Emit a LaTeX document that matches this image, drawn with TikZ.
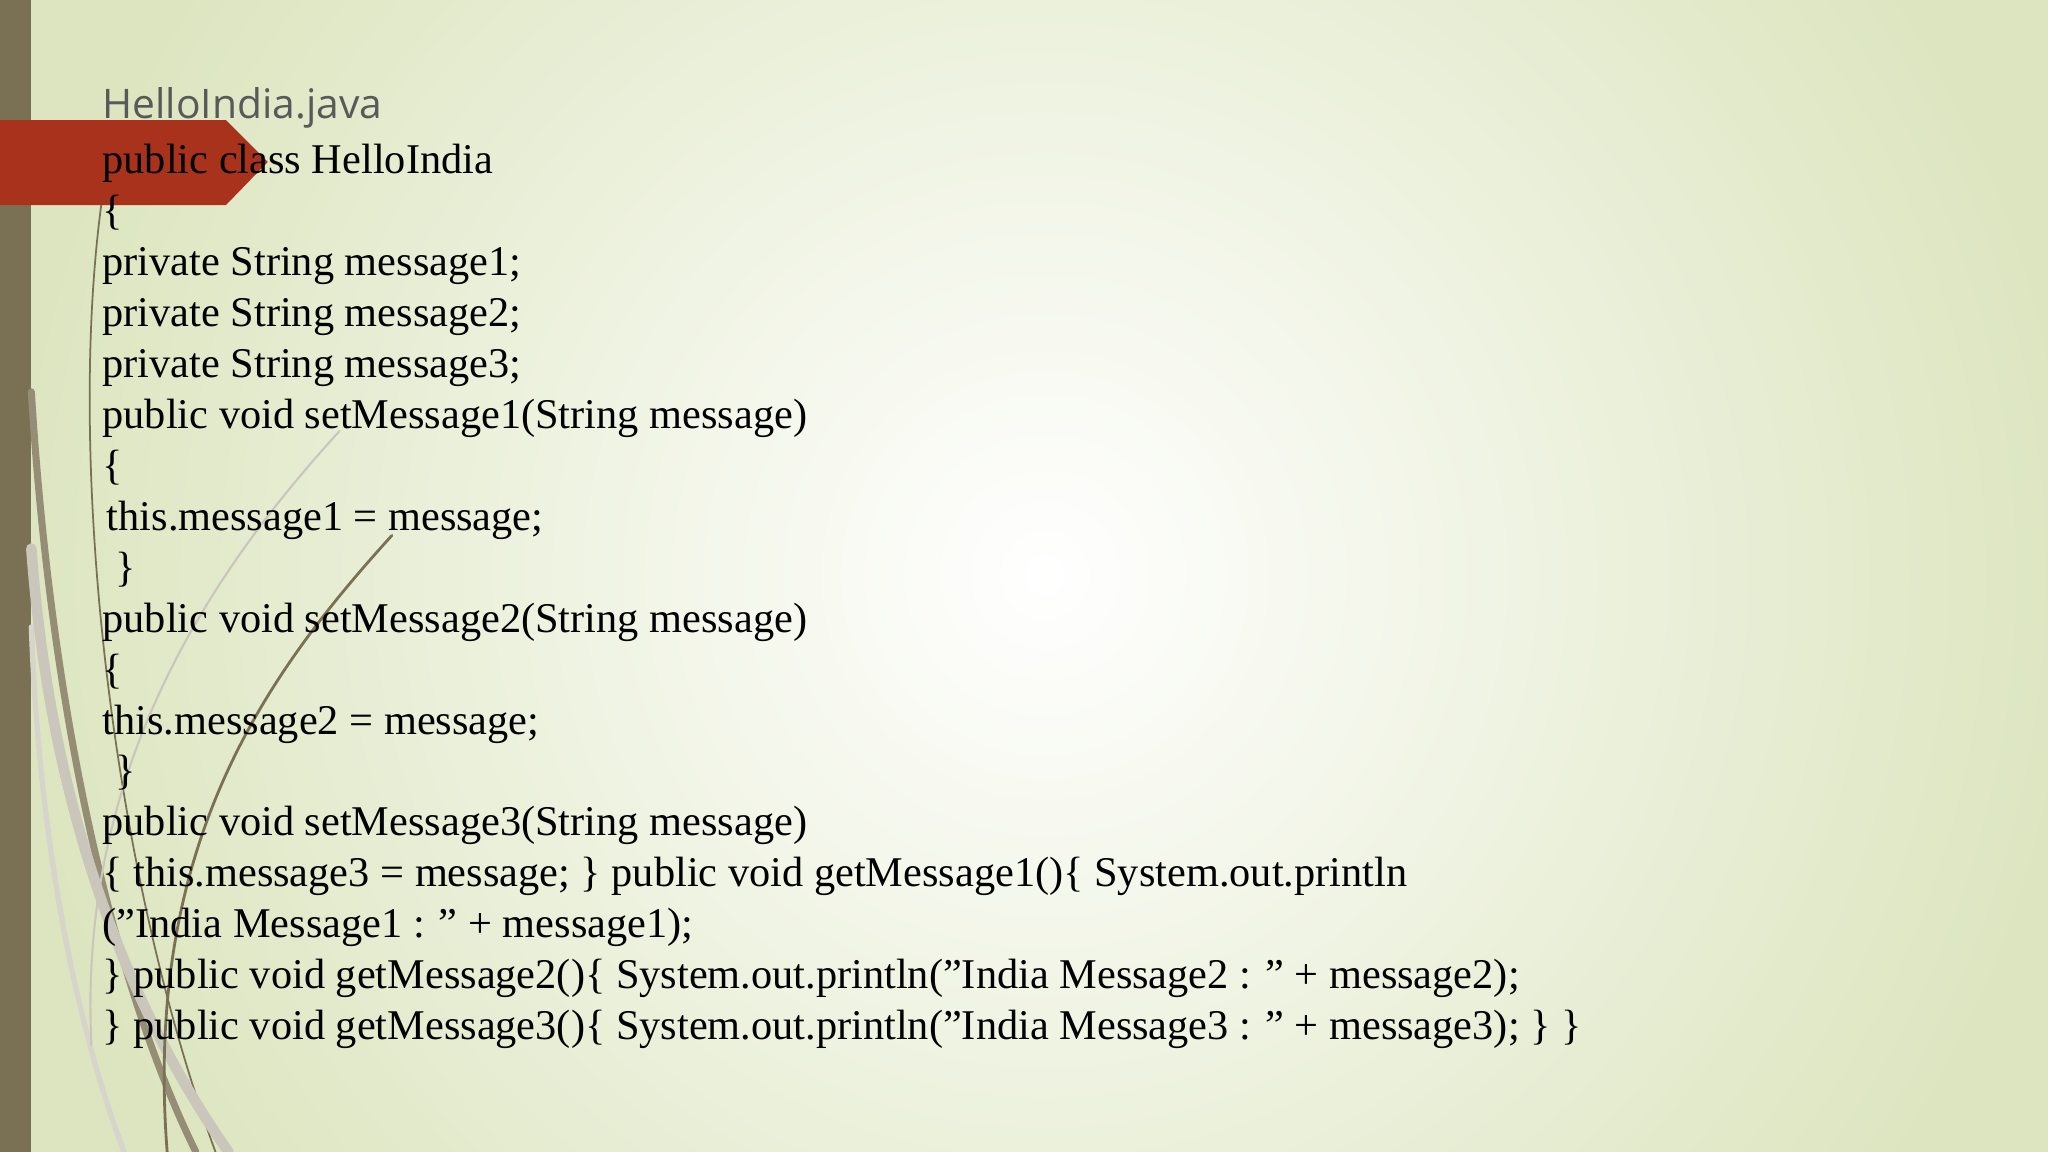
\documentclass[tikz,border=0pt]{standalone}
\usepackage{fontspec}
\setmainfont{Liberation Serif}[Ligatures=NoCommon]
\newfontfamily\titlefont{Open Sans}
\newcommand{\dq}{\char34 }
\begin{document}
\begin{tikzpicture}[x=0.013061cm,y=-0.013061cm,
  code/.style={anchor=base west,inner sep=0,font=\fontsize{12.05}{14}\selectfont},
  swoosh/.style={line cap=round}]
\definecolor{bgedge}{HTML}{DCE5BF}
\definecolor{barc}{HTML}{7A7054}
\definecolor{redc}{HTML}{A8321C}
\useasboundingbox (0,0) rectangle (1568,882);
\fill[bgedge] (0,0) rectangle (1568,882);
\shade[inner color=white,outer color=bgedge] (800,440) circle (800);
\fill[barc] (0,0) rectangle (24,882);
% swooshes
\draw[swoosh,line width=0.5pt,draw=barc] (80,140) .. controls (50,330) and (80,650) .. (165,882);
\draw[swoosh,line width=2pt,draw=barc!80] (24,300) .. controls (40,560) and (90,760) .. (150,882);
\draw[swoosh,line width=3pt,draw=barc!40] (24,420) .. controls (40,640) and (110,790) .. (175,882);
\draw[swoosh,line width=1.5pt,draw=barc!30] (24,480) .. controls (30,650) and (60,790) .. (95,882);
\draw[swoosh,line width=0.8pt,draw=barc] (300,410) .. controls (200,520) and (110,650) .. (128,882);
\draw[swoosh,line width=0.6pt,draw=barc!40] (260,330) .. controls (150,450) and (60,600) .. (70,800);
% red arrow
\fill[redc] (0,92) -- (173,92) -- (205,124) -- (173,157) -- (0,157) -- cycle;
\node[anchor=base west,inner sep=0,text=black!65,font=\titlefont\fontsize{11.6}{14}\selectfont] (title) at (78,91) {HelloIndia.java};
\foreach \t [count=\i] in {
 {public class HelloIndia},
 {\{},
 {private String message1;},
 {private String message2;},
 {private String message3;},
 {public void setMessage1(String message)},
 {\{},
 {\hspace*{0.1em}this.message1 = message;},
 {\hspace*{0.3em}\}},
 {public void setMessage2(String message)},
 {\{},
 {this.message2 = message;},
 {\hspace*{0.3em}\}},
 {public void setMessage3(String message)},
 {\{ this.message3 = message; \} public void getMessage1()\{ System.out.println},
 {(\dq India Message1 : \dq{} + message1);},
 {\} public void getMessage2()\{ System.out.println(\dq India Message2 : \dq{} + message2);},
 {\} public void getMessage3()\{ System.out.println(\dq India Message3 : \dq{} + message3); \} \}}}
 \node[code] (l\i) at (78,{94+39*\i}) {\t};
\end{tikzpicture}
\end{document}
